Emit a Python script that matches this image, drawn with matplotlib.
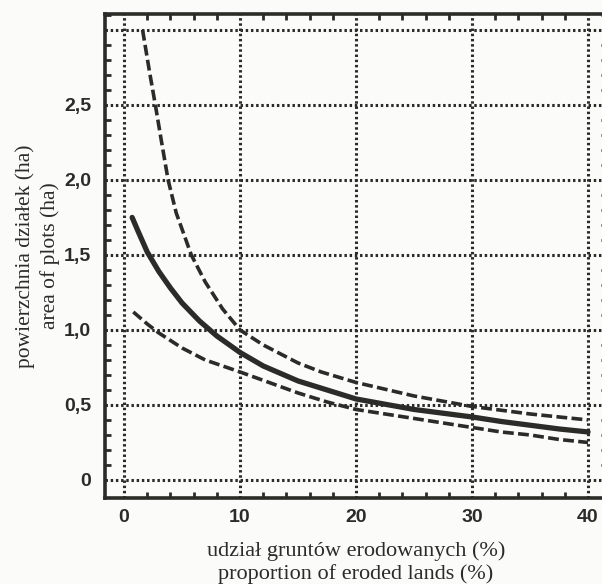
"""Plot area of plots against proportion of eroded lands."""

from matplotlib import pyplot as plt
import numpy as np

# values
x_mean = [0.7, 1.2, 2, 3, 4, 5, 6.5, 8, 10, 12, 15, 17.5, 20, 22.5, 25,
          27.5, 30, 32.5, 35, 37.5, 40]
y_mean = [1.75, 1.66, 1.52, 1.39, 1.28, 1.18, 1.06, 0.96, 0.85, 0.76, 0.66,
          0.60, 0.54, 0.505, 0.47, 0.445, 0.42, 0.39, 0.365, 0.34, 0.32]

x_upper = [1.6, 2.2, 2.7, 3.2, 3.8, 4.5, 5.8, 7, 8.5, 10, 12, 15, 17, 20,
           25, 30, 35, 40]
y_upper = [3.0, 2.72, 2.5, 2.27, 2.0, 1.78, 1.5, 1.32, 1.14, 1.0, 0.9, 0.78,
           0.72, 0.65, 0.56, 0.49, 0.44, 0.40]

x_lower = [0.8, 2, 3, 4, 5, 7, 10, 12.5, 15, 17.5, 20, 22.5, 25, 27.5, 30,
           32.5, 35, 37.5, 40]
y_lower = [1.12, 1.04, 0.98, 0.93, 0.88, 0.80, 0.72, 0.65, 0.58, 0.52, 0.47,
           0.44, 0.41, 0.38, 0.35, 0.32, 0.30, 0.27, 0.25]

x_ticks = [0, 10, 20, 30, 40]
y_ticks = [0, 0.5, 1.0, 1.5, 2.0, 2.5, 3.0]
y_ticklabels = ["0", "0,5", "1,0", "1,5", "2,0", "2,5", ""]

ink = "#2b2b27"

fig = plt.figure(figsize=(6.02, 5.84), dpi=100)
fig.patch.set_facecolor("#fbfbfa")
ax = fig.add_axes([0.1744, 0.1473, 0.834, 0.829])
ax.set_facecolor("#fbfbfa")

ax.plot(x_upper, y_upper, color=ink, lw=2.6, linestyle=(0, (3.0, 1.2)),
        zorder=3)
ax.plot(x_lower, y_lower, color=ink, lw=2.6, linestyle=(0, (3.0, 1.2)),
        zorder=3)
ax.plot(x_mean, y_mean, color=ink, lw=3.8, solid_capstyle="round",
        solid_joinstyle="round", zorder=4)

ax.set_xlim(-1.64, 41.64)
ax.set_ylim(-0.12, 3.107)

ax.set_xticks(x_ticks)
ax.set_xticklabels([str(t) for t in x_ticks])
ax.set_yticks(y_ticks)
ax.set_yticklabels(y_ticklabels)
ax.set_xticks(np.arange(0, 41, 2), minor=True)
ax.set_yticks(np.arange(0, 3.11, 0.1), minor=True)

ax.grid(True, which="major", color=ink, lw=2.2, linestyle=(0, (0.8, 0.9)),
        zorder=1)
ax.tick_params(which="major", length=0, pad=8)
ax.tick_params(axis="y", which="major", pad=10)
ax.tick_params(which="minor", direction="in", length=4, width=2, color=ink,
               top=True, right=True)
for lab in ax.get_xticklabels() + ax.get_yticklabels():
  lab.set_fontfamily("Liberation Sans")
  lab.set_fontweight("bold")
  lab.set_fontsize(14)
  lab.set_color(ink)

for sp in ax.spines.values():
  sp.set_linewidth(2.6)
  sp.set_color(ink)

ax.set_xlabel("udział gruntów erodowanych (%)\nproportion of eroded lands (%)",
              fontfamily="Liberation Serif", fontsize=16, color=ink,
              labelpad=11, linespacing=1.2)
ax.set_ylabel("powierzchnia działek (ha)\narea of plots (ha)",
              fontfamily="Liberation Serif", fontsize=15.5, color=ink,
              labelpad=3, linespacing=1.3)

plt.savefig("out.png", dpi=100, facecolor=fig.get_facecolor())
